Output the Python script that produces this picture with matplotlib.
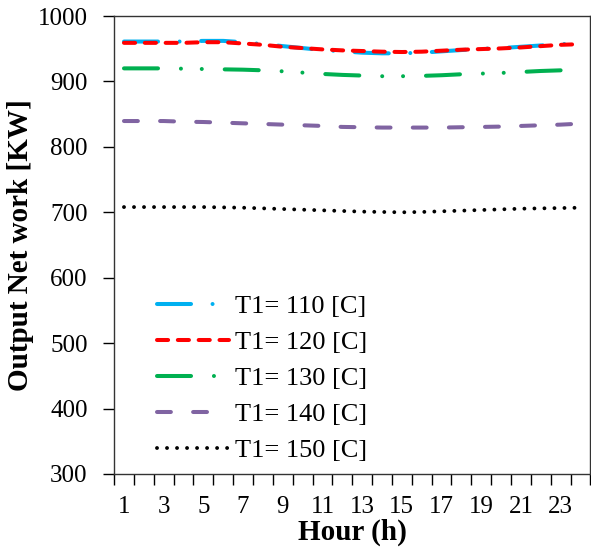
import matplotlib
matplotlib.use("Agg")
import matplotlib.pyplot as plt
from matplotlib.ticker import FixedLocator, NullFormatter

plt.rcParams['font.family'] = ['Liberation Serif', 'DejaVu Serif']
plt.rcParams['lines.scale_dashes'] = False

hours = list(range(1, 25))
t110 = [961, 961, 961, 961, 962, 962, 960, 957, 954, 951, 948, 946,
        944, 943, 943, 944, 946, 948, 950, 951, 953, 955, 957, 958]
t120 = [959, 959, 959, 959, 960, 960, 958, 956, 953, 951, 949, 947.5,
        946.5, 945.5, 945, 945.5, 947, 948.5, 949.5, 950.5, 952, 954, 956, 957]
t130 = [920, 920, 920, 919.5, 919, 918.5, 918, 917, 915.5, 913.5, 911.5, 910,
        909, 908, 908, 908.5, 909.5, 911, 912, 913, 914.5, 916, 917, 918]
t140 = [839.5, 839.5, 839.5, 838.5, 838, 837, 836, 835, 834, 833, 832, 830.5,
        830, 829.5, 829.5, 829.5, 829.5, 830, 830.5, 831, 832, 833, 834, 835.5]
t150 = [708, 708, 708, 708, 708, 707.5, 707, 706, 705, 704, 703, 702,
        701, 700.5, 700, 700.5, 701.5, 702.5, 703.5, 704.5, 705.5, 706, 706.5, 707]
labels = ["T1= 110 [C]", "T1= 120 [C]", "T1= 130 [C]", "T1= 140 [C]", "T1= 150 [C]"]
xtick_labels = [str(h) for h in range(1, 25, 2)]

fig = plt.figure(figsize=(5.91, 5.47), dpi=100)
ax = fig.add_axes([0.193, 0.1335, 0.806, 0.8372])

styles = [
    dict(color='#00B0F0', lw=2.9, dashes=(24.5, 15.5, 0.01, 15.5)),
    dict(color='#FF0000', lw=2.9, dashes=(8, 7)),
    dict(color='#00B050', lw=2.9, dashes=(24.5, 16.5, 0.01, 15, 0.01, 16.5)),
    dict(color='#8064A2', lw=2.9, dashes=(10, 16)),
    dict(color='#000000', lw=2.8, dashes=(0.01, 7.2)),
]
for ys, lab, st in zip([t110, t120, t130, t140, t150], labels, styles):
    ax.plot(hours, ys, label=lab, dash_capstyle='round', **st)

ax.set_xlim(0.5, 24.5)
ax.set_ylim(300, 1000)
ax.set_yticks(range(300, 1001, 100))
ax.xaxis.set_major_locator(FixedLocator(list(range(1, 25, 2))))
ax.set_xticklabels(xtick_labels)
ax.xaxis.set_minor_locator(FixedLocator([h + 0.5 for h in range(0, 25)]))
ax.xaxis.set_minor_formatter(NullFormatter())
ax.tick_params(axis='x', which='major', length=0, pad=16, labelsize=18)
ax.tick_params(axis='x', which='minor', length=8, width=1, direction='out')
ax.tick_params(axis='y', which='major', length=8, width=1, direction='out', pad=11, labelsize=18)
for s in ax.spines.values():
    s.set_linewidth(1)
    s.set_color('#333333')

ax.set_ylabel('Output Net work [KW]', fontsize=21, fontweight='bold', labelpad=3)
ax.set_xlabel('Hour (h)', fontsize=21, fontweight='bold', labelpad=0)

ax.legend(loc='upper left', bbox_to_anchor=(0.09, 0.391), frameon=False, fontsize=19,
          handlelength=2.73, handletextpad=0.23, labelspacing=0.47, borderpad=0,
          borderaxespad=0)

fig.savefig('out.png', dpi=100)
